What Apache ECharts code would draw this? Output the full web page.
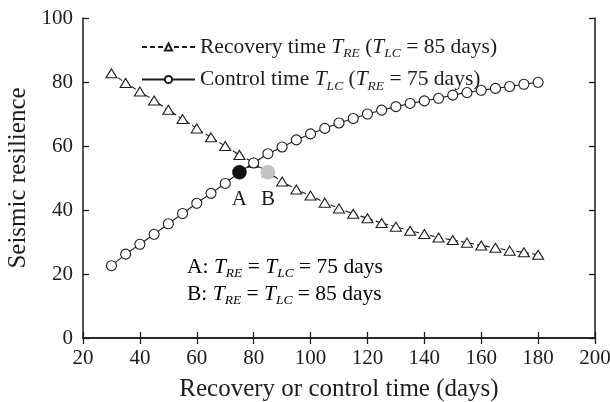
<!DOCTYPE html>
<html>
<head>
<meta charset="utf-8">
<style>
  html, body { margin: 0; padding: 0; background: #fff; }
  #chart { width: 610px; height: 402px; }
</style>
<script src="https://cdn.jsdelivr.net/npm/echarts@6/dist/echarts.min.js"></script>
</head>
<body>
<div id="chart"></div>
<script>
// Recovery / control time (days)
const days = [30, 35, 40, 45, 50, 55, 60, 65, 70, 75, 80, 85, 90, 95, 100, 105, 110,
  115, 120, 125, 130, 135, 140, 145, 150, 155, 160, 165, 170, 175, 180];

// Seismic resilience vs recovery time T_RE (T_LC = 85 days)
const recovery = [82.7, 79.7, 77.0, 74.2, 71.3, 68.4, 65.5, 62.7, 60.0, 57.2, 54.8, 51.8,
  48.9, 46.4, 44.5, 42.3, 40.5, 38.8, 37.4, 35.9, 34.8, 33.5, 32.5, 31.4, 30.6, 29.8,
  28.9, 28.2, 27.3, 26.8, 26.0];

// Seismic resilience vs control time T_LC (T_RE = 75 days)
const control = [22.6, 26.2, 29.3, 32.4, 35.7, 38.9, 42.1, 45.2, 48.3, 51.8, 54.7, 57.6,
  59.7, 61.9, 63.8, 65.5, 67.2, 68.6, 70.0, 71.2, 72.3, 73.3, 74.1, 74.9, 75.9, 76.7,
  77.4, 78.0, 78.6, 79.3, 79.9];

// Highlighted states A and B: [time, resilience]
const pointA = [75, 51.8];
const pointB = [85, 51.8];

const xTicks = { min: 20, max: 200, step: 20 };
const yTicks = { min: 0, max: 100, step: 20 };

const FONT = '"Liberation Serif", "Times New Roman", serif';
const INK = '#1c1c1c';

const rich = {
  n: { fontFamily: FONT, fontSize: 21.5, color: INK, lineHeight: 24 },
  i: { fontFamily: FONT, fontSize: 21.5, color: INK, fontStyle: 'italic', lineHeight: 24 },
  s: { fontFamily: FONT, fontSize: 13.5, color: INK, fontStyle: 'italic', verticalAlign: 'top', padding: [13, 0, 0, 0] }
};

const legendText = {
  'Recovery': '{n|Recovery time }{i|T}{s|RE}{n| (}{i|T}{s|LC}{n| = 85 days)}',
  'Control': '{n|Control time }{i|T}{s|LC}{n| (}{i|T}{s|RE}{n| = 75 days)}'
};

const pair = (xs, ys) => xs.map((x, k) => [x, ys[k]]);

const chart = echarts.init(document.getElementById('chart'), null, { renderer: 'canvas' });

const tickAxisCommon = {
  axisLine: { show: true, lineStyle: { color: INK, width: 1.5 } },
  axisTick: { show: true, inside: true, length: 6, lineStyle: { color: INK, width: 1.3 } },
  splitLine: { show: false }
};

chart.setOption({
  backgroundColor: '#fff',
  animation: false,
  grid: { left: 83, right: 15, top: 18, bottom: 64, containLabel: false, outerBoundsMode: 'none' },
  legend: {
    orient: 'vertical',
    left: 136,
    top: 31,
    itemGap: 8,
    itemWidth: 53,
    itemHeight: 9,
    data: ['Recovery', 'Control'],
    formatter: name => legendText[name],
    textStyle: { rich: rich }
  },
  xAxis: [
    Object.assign({
      type: 'value', min: xTicks.min, max: xTicks.max, interval: xTicks.step,
      name: 'Recovery or control time (days)', nameLocation: 'middle', nameGap: 39,
      nameTextStyle: { fontFamily: FONT, fontSize: 25, color: INK },
      axisLabel: { fontFamily: FONT, fontSize: 21, color: INK, margin: 10 }
    }, tickAxisCommon),
    Object.assign({
      type: 'value', position: 'top', min: xTicks.min, max: xTicks.max, interval: xTicks.step,
      axisLabel: { show: false }
    }, tickAxisCommon)
  ],
  yAxis: [
    Object.assign({
      type: 'value', min: yTicks.min, max: yTicks.max, interval: yTicks.step,
      name: 'Seismic resilience', nameLocation: 'middle', nameGap: 50,
      nameTextStyle: { fontFamily: FONT, fontSize: 25, color: INK },
      axisLabel: { fontFamily: FONT, fontSize: 21, color: INK, margin: 10 }
    }, tickAxisCommon),
    Object.assign({
      type: 'value', position: 'right', min: yTicks.min, max: yTicks.max, interval: yTicks.step,
      axisLabel: { show: false }
    }, tickAxisCommon)
  ],
  series: [
    {
      name: 'Recovery',
      type: 'line',
      data: pair(days, recovery),
      symbol: 'triangle',
      symbolSize: [11, 9],
      showAllSymbol: true,
      lineStyle: { color: INK, width: 1.1, type: [5, 3] },
      itemStyle: { color: '#fff', borderColor: INK, borderWidth: 1.1 },
      z: 3
    },
    {
      name: 'Control',
      type: 'line',
      data: pair(days, control),
      symbol: 'circle',
      symbolSize: 10,
      showAllSymbol: true,
      lineStyle: { color: INK, width: 1.1 },
      itemStyle: { color: '#fff', borderColor: INK, borderWidth: 1.1 },
      z: 4
    },
    {
      name: 'A',
      type: 'scatter',
      data: [pointA],
      symbol: 'circle',
      symbolSize: 14,
      itemStyle: { color: '#111', borderColor: '#111', borderWidth: 0.5, opacity: 1 },
      label: {
        show: true, position: 'bottom', distance: 9, formatter: 'A',
        fontFamily: FONT, fontSize: 21, color: INK
      },
      z: 10
    },
    {
      name: 'B',
      type: 'scatter',
      data: [pointB],
      symbol: 'circle',
      symbolSize: 14,
      itemStyle: { color: '#c2c2c2', borderColor: '#b8b8b8', borderWidth: 0.5, opacity: 1 },
      label: {
        show: true, position: 'bottom', distance: 9, formatter: 'B',
        fontFamily: FONT, fontSize: 21, color: INK
      },
      z: 10
    }
  ],
  graphic: [
    {
      type: 'text', left: 187, top: 256,
      style: {
        text: '{n|A: }{i|T}{s|RE}{n| = }{i|T}{s|LC}{n| = 75 days}',
        rich: rich
      }
    },
    {
      type: 'text', left: 187, top: 283,
      style: {
        text: '{n|B: }{i|T}{s|RE}{n| = }{i|T}{s|LC}{n| = 85 days}',
        rich: rich
      }
    }
  ]
});
</script>
</body>
</html>
